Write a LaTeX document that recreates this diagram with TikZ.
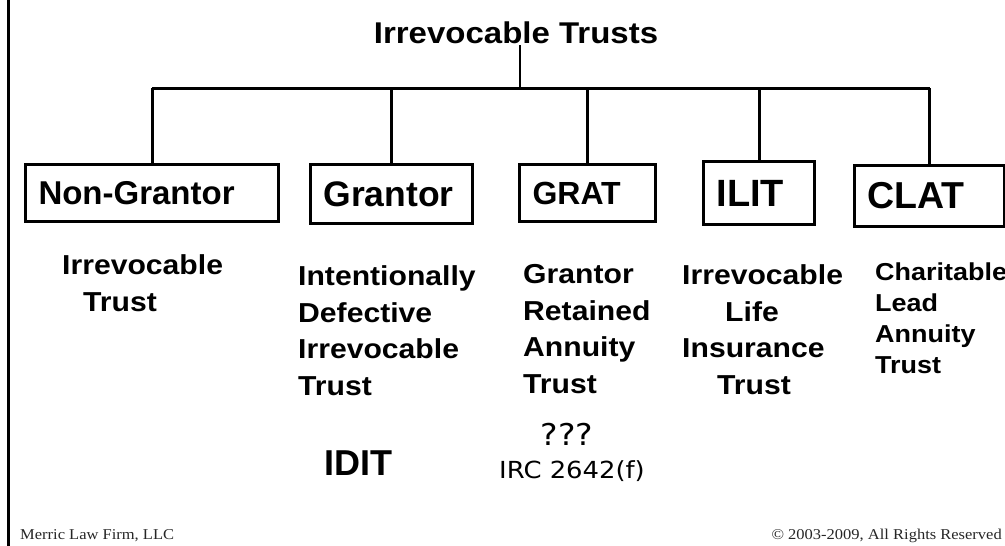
\documentclass[tikz,border=0pt]{standalone}
\usepackage{fontspec}
\setmainfont{Liberation Sans}[FakeStretch=1.1]
\newfontfamily\arialn{Liberation Sans}
\newfontfamily\dejavu{DejaVu Sans}[FakeStretch=1.1]
\newfontfamily\timesf{Liberation Serif}[FakeStretch=1.1]
\newcommand\subfnt{\bfseries\fontsize{27.4}{36.5}\selectfont}
\newcommand\clatfnt{\bfseries\fontsize{24.5}{31}\selectfont}
\newcommand\footfnt{\timesf\fontsize{15}{18}\selectfont}
\newcommand\boxfnt[1]{\arialn\bfseries\fontsize{#1}{#1}\selectfont}
\tikzset{
  tbox/.style={draw, line width=3pt, anchor=north west, inner ysep=0pt, inner xsep=13pt, align=left},
  subtxt/.style={inner sep=0pt, align=left, anchor=base west, font=\subfnt},
  conn/.style={line width=3pt},
}
\begin{document}
\begin{tikzpicture}[x=1pt,y=-1pt]
\useasboundingbox (0,0) rectangle (1005,546);
\draw[line width=2.5pt] (8.5,0) -- (8.5,546);

\node[anchor=base, inner sep=2pt, font=\bfseries\fontsize{30}{36}\selectfont] (title) at (516,43) {Irrevocable Trusts};
\coordinate (bar) at (0,88);

\node[tbox, minimum width=253pt, text width=227pt, minimum height=57pt, font=\boxfnt{33}] (nong) at (24,163) {Non-Grantor};
\node[tbox, minimum width=162pt, text width=136pt, minimum height=59pt, font=\boxfnt{35.5}] (gran) at (309,163) {Grantor};
\node[tbox, minimum width=136pt, text width=110pt, minimum height=57pt, font=\boxfnt{32}] (grat) at (518,163) {GRAT};
\node[tbox, minimum width=111pt, text width=85pt, minimum height=63pt, font=\boxfnt{38}] (ilit) at (702,160) {ILIT};
\node[tbox, minimum width=150pt, text width=124pt, minimum height=61pt, font=\boxfnt{37.5}] (clat) at (853,164) {CLAT};

\draw[line width=2pt] ([xshift=4pt]title.south) -- ([xshift=4pt]title.south |- bar);
\draw[conn] (nong.north |- bar) -- (clat.north |- bar);
\foreach \b in {nong,gran,grat,ilit,clat} \draw[conn] (\b.north |- bar) -- (\b.north);

% base anchor of a multi-line node = baseline of its last line
\node[subtxt] (nongs) at (62,311) {Irrevocable\\\hspace*{21pt}Trust};
\node[subtxt] (grans) at (298,395) {Intentionally\\Defective\\Irrevocable\\Trust};
\node[subtxt] (grats) at (523,393) {Grantor\\Retained\\Annuity\\Trust};
\node[subtxt] (ilits) at (682,394) {Irrevocable\\\hspace*{43pt}Life\\Insurance\\\hspace*{35pt}Trust};
\node[subtxt, font=\clatfnt] (clats) at (875,373) {Charitable\\Lead\\Annuity\\Trust};

\node[anchor=base, font=\arialn\bfseries\fontsize{36}{40}\selectfont] (idit) at (358,475) {IDIT};
\node[anchor=base, font=\dejavu\fontsize{30}{34}\selectfont] (qqq) at (567,445) {???};
\node[anchor=base, font=\dejavu\fontsize{23.5}{28}\selectfont] (irc) at (572,478) {IRC 2642(f)};

\node[anchor=base west, inner sep=0pt, font=\footfnt, text=black!85] (firm) at (20,539) {Merric Law Firm, LLC};
\node[anchor=base east, inner sep=0pt, font=\footfnt, text=black!85] (copy) at (1002,539) {\textcopyright{} 2003-2009, All Rights Reserved};
\end{tikzpicture}
\end{document}
